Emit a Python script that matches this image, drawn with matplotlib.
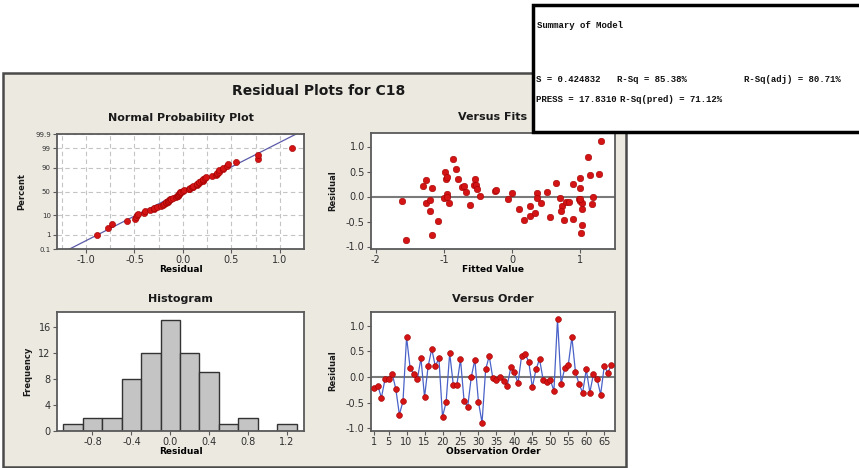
import numpy as np
import matplotlib
matplotlib.use('Agg')
import matplotlib.pyplot as plt
from matplotlib.patches import Rectangle
from statistics import NormalDist

plt.rcParams['axes.unicode_minus'] = False

# residuals in observation order (Versus Order panel)
obs_order = list(range(1, 68))
resid_order = [-0.21, -0.17, -0.40, -0.04, -0.03, 0.07, -0.23, -0.73, -0.47, 0.78,
               0.17, 0.06, -0.04, 0.37, -0.39, 0.21, 0.55, 0.21, 0.37, -0.77,
               -0.49, 0.47, -0.15, -0.15, 0.35, -0.46, -0.58, 0.00, 0.34, -0.48,
               -0.89, 0.15, 0.41, -0.02, -0.06, 0.01, -0.07, -0.17, 0.19, 0.10,
               -0.12, 0.41, 0.45, 0.30, -0.20, 0.15, 0.35, -0.05, -0.10, -0.05,
               -0.27, 1.13, -0.13, 0.17, 0.24, 0.78, 0.10, -0.14, -0.30, 0.15,
               -0.30, 0.06, -0.03, -0.34, 0.21, 0.09, 0.23]

# Versus Fits scatter
fitted = [-1.61, -1.56, -1.30, -1.26, -1.27, -1.21, -1.20, -1.17, -1.18, -1.08,
          -1.00, -0.99, -0.97, -0.95, -0.96, -0.95, -0.92, -0.87, -0.83, -0.80,
          -0.73, -0.71, -0.67, -0.62, -0.55, -0.56, -0.53, -0.51, -0.47, -0.25,
          -0.24, -0.06, 0.00, 0.10, 0.17, 0.27, 0.26, 0.33, 0.36, 0.37,
          0.42, 0.51, 0.56, 0.64, 0.70, 0.73, 0.72, 0.76, 0.79, 0.83,
          0.89, 0.89, 0.98, 1.00, 1.00, 1.00, 1.02, 1.03, 1.02, 1.01,
          1.11, 1.15, 1.18, 1.17, 1.27, 1.30, 0.99]
fit_resid = [-0.09, -0.87, 0.21, 0.33, -0.13, -0.07, -0.29, 0.18, -0.76, -0.48,
             -0.03, 0.49, 0.35, 0.40, 0.05, 0.00, -0.13, 0.75, 0.55, 0.36,
             0.20, 0.22, 0.10, -0.17, 0.36, 0.23, 0.23, 0.15, 0.01, 0.12,
             0.14, -0.05, 0.08, -0.25, -0.47, -0.19, -0.38, -0.33, 0.07, -0.03,
             -0.13, 0.10, -0.40, 0.28, -0.03, -0.19, -0.29, -0.46, -0.11, -0.11,
             0.26, -0.45, -0.05, 0.37, 0.17, -0.09, -0.12, -0.24, -0.57, -0.72,
             0.80, 0.43, 0.00, -0.15, 0.45, 1.12, -0.05]

# histogram
hist_mid = [-1.0, -0.8, -0.6, -0.4, -0.2, 0.0, 0.2, 0.4, 0.6, 0.8, 1.0, 1.2]
hist_count = [1, 2, 2, 8, 12, 17, 12, 9, 1, 2, 0, 1]

# normal probability reference line (end points)
np_line_x = [-1.17, 1.17]
np_line_p = [0.1, 99.9]
pct_ticks = [0.1, 1, 10, 50, 90, 99, 99.9]
pct_labels = ['0.1', '1', '10', '50', '90', '99', '99.9']

W, H = 859, 468
fig = plt.figure(figsize=(W / 100, H / 100), dpi=100)
fig.patch.set_facecolor('white')


def rect(l, t, r, b):
    return [l / W, 1 - b / H, (r - l) / W, (b - t) / H]


def fx(x):
    return x / W


def fy(y):
    return 1 - y / H


panel = Rectangle((fx(3), fy(467)), (626 - 3) / W, (467 - 73) / H,
                  transform=fig.transFigure, facecolor='#ECE9E1',
                  edgecolor='#4a4a4a', lw=1.8, zorder=-5)
fig.add_artist(panel)

red = '#D41414'
red_edge = '#A00000'
spine_c = '#5a5a5a'


def style(ax):
    ax.set_facecolor('white')
    for s in ax.spines.values():
        s.set_color(spine_c)
        s.set_linewidth(1.3)
    ax.tick_params(labelsize=7, length=3, width=0.8, color=spine_c,
                   labelcolor='#303030', pad=1.5)


nd = NormalDist()
_fwd = np.vectorize(lambda p: nd.inv_cdf(min(max(p / 100, 1e-7), 1 - 1e-7)), otypes=[float])
_inv = np.vectorize(lambda z: nd.cdf(z) * 100, otypes=[float])


def fwd(p):
    return _fwd(np.asarray(p, float))


def inv(z):
    return _inv(np.asarray(z, float))


# --- Normal probability plot
ax1 = fig.add_axes(rect(57, 134, 304, 249))
style(ax1)
ax1.set_yscale('function', functions=(fwd, inv))
srt = np.sort(resid_order)
n = len(srt)
pct = (np.arange(1, n + 1) - 0.3) / (n + 0.4) * 100
ax1.plot(np_line_x, np_line_p, color='#5a5aa8', lw=0.9, zorder=2)
ax1.scatter(srt, pct, s=20, color=red, edgecolors=red_edge, lw=0.4, zorder=3)
ax1.set_xlim(-1.30, 1.25)
ax1.set_ylim(0.1, 99.9)
ax1.set_yticks(pct_ticks)
ax1.set_yticklabels(pct_labels)
ax1.set_yticks([], minor=True)
ax1.tick_params(axis='y', labelsize=5)
ax1.set_xticks([-1.0, -0.5, 0.0, 0.5, 1.0])
ax1.set_xticklabels(['-1.0', '-0.5', '0.0', '0.5', '1.0'])
ax1.set_xticks([-1.25, -0.75, -0.25, 0.25, 0.75], minor=True)
ax1.tick_params(axis='x', which='minor', length=0)
ax1.grid(True, which='both', axis='x', ls=(0, (4, 3)), color='#c4c4c4', lw=0.8)
ax1.grid(True, which='major', axis='y', ls=(0, (4, 3)), color='#c4c4c4', lw=0.8)
ax1.set_axisbelow(True)
ax1.set_xlabel('Residual', fontsize=6.5, fontweight='bold', labelpad=0)

# --- Versus fits
ax2 = fig.add_axes(rect(371, 133, 615, 249))
style(ax2)
ax2.axhline(0, color='#7a7a7a', lw=1.5, zorder=1)
ax2.scatter(fitted, fit_resid, s=22, color=red, edgecolors=red_edge, lw=0.4, zorder=3)
ax2.set_xlim(-2.07, 1.51)
ax2.set_ylim(-1.05, 1.27)
ax2.set_xticks([-2, -1, 0, 1])
ax2.set_yticks([-1.0, -0.5, 0.0, 0.5, 1.0])
ax2.set_yticklabels(['-1.0', '-0.5', '0.0', '0.5', '1.0'])
ax2.set_xlabel('Fitted Value', fontsize=6.5, fontweight='bold', labelpad=0)

# --- Histogram
ax3 = fig.add_axes(rect(57, 312, 304, 431))
style(ax3)
ax3.bar(hist_mid, hist_count, width=0.2, color='#C4C4C4', edgecolor='#333333', lw=1.0)
ax3.set_xlim(-1.165, 1.375)
ax3.set_ylim(0, 18.3)
ax3.set_xticks([-0.8, -0.4, 0.0, 0.4, 0.8, 1.2])
ax3.set_xticklabels(['-0.8', '-0.4', '0.0', '0.4', '0.8', '1.2'])
ax3.set_yticks([0, 4, 8, 12, 16])
ax3.set_xlabel('Residual', fontsize=6.5, fontweight='bold', labelpad=0)

# --- Versus order
ax4 = fig.add_axes(rect(371, 312, 615, 431))
style(ax4)
ax4.axhline(0, color='#7a7a7a', lw=1.5, zorder=1)
ax4.plot(obs_order, resid_order, color='#4a62c8', lw=0.9, marker='o', ms=4.2,
         mfc=red, mec=red_edge, mew=0.4, zorder=3)
ax4.set_xlim(0.1, 68)
ax4.set_ylim(-1.05, 1.27)
ax4.set_xticks([1] + list(range(5, 66, 5)))
ax4.set_yticks([-1.0, -0.5, 0.0, 0.5, 1.0])
ax4.set_yticklabels(['-1.0', '-0.5', '0.0', '0.5', '1.0'])
ax4.set_xlabel('Observation Order', fontsize=6.5, fontweight='bold', labelpad=0)

# titles and y labels
fig.text(fx(319), fy(91), 'Residual Plots for C18', ha='center', va='center',
         fontsize=10, fontweight='bold', color='#1a1a1a')
for x, y, t in [(180.5, 118, 'Normal Probability Plot'), (493, 117, 'Versus Fits'),
                (180.5, 299, 'Histogram'), (493, 299, 'Versus Order')]:
    fig.text(fx(x), fy(y), t, ha='center', va='center', fontsize=8,
             fontweight='bold', color='#1a1a1a')
for x, y, t in [(22, 191, 'Percent'), (333, 191, 'Residual'),
                (28, 371, 'Frequency'), (333, 371, 'Residual')]:
    fig.text(fx(x), fy(y), t, ha='center', va='center', rotation=90,
             fontsize=6, fontweight='bold', color='#1a1a1a')

# summary box
box = Rectangle((fx(533), fy(132)), (880 - 533) / W, (132 - 5) / H,
                transform=fig.transFigure, facecolor='white', edgecolor='black',
                lw=2.5, zorder=20)
fig.add_artist(box)
mono = dict(family='Liberation Mono', fontweight='bold', fontsize=6.5,
            va='center', ha='left', zorder=21, color='#111111')
fig.text(fx(537), fy(26), 'Summary of Model', **mono)
fig.text(fx(536), fy(80), 'S = 0.424832', **mono)
fig.text(fx(617), fy(80), 'R-Sq = 85.38%', **mono)
fig.text(fx(744), fy(80), 'R-Sq(adj) = 80.71%', **mono)
fig.text(fx(536), fy(100), 'PRESS = 17.8310', **mono)
fig.text(fx(620), fy(100), 'R-Sq(pred) = 71.12%', **mono)

fig.savefig('out.png', dpi=100)
